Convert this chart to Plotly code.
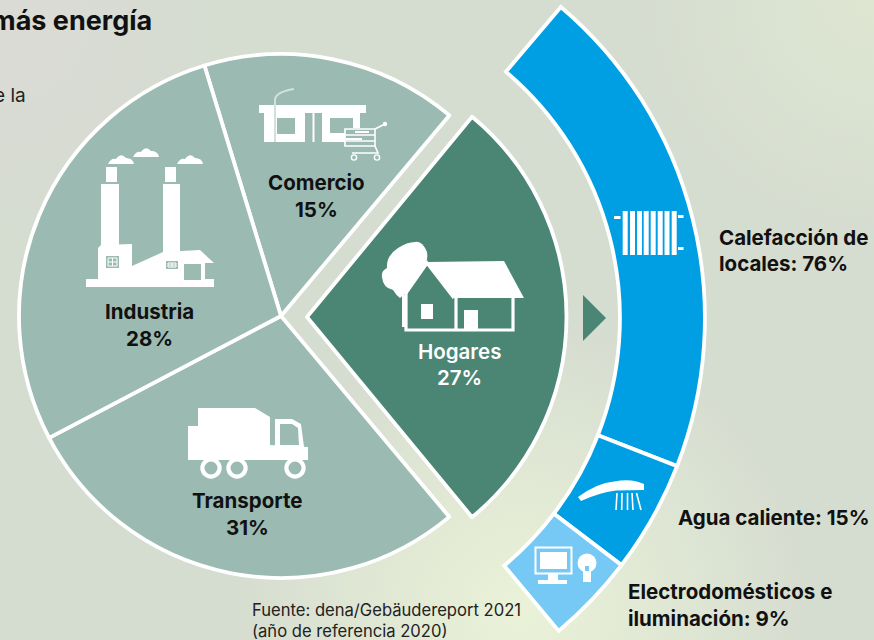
import base64
import re
import plotly.graph_objects as go

W, H = 874, 640

# ---------- data ----------
title_text = "más energía"
clipped_text = "e la"
source_lines = ["Fuente: dena/Gebäudereport 2021", "(año de referencia 2020)"]

main_names = ["Comercio", "Industria", "Transporte", "Hogares"]
main_pct = [15, 28, 31, 27]
# Arc of each sector in degrees
main_arcs = [57.0, 100.0, 102.2, 100.7]          # Comercio, gap for Hogares, Transporte, Industria
main_arc_labels = ["Comercio", "", "Transporte", "Industria"]
hogares_arcs = [101.0, 259.0]
use_names = ["Calefacción de locales", "Agua caliente", "Electrodomésticos e iluminación"]
use_pct = [76, 15, 9]
use_arcs = [71.0, 16.0, 12.8]

C_PALE, C_DARK = "#9BBAB1", "#4B8675"
C_BLUE, C_LIGHT = "#009FE3", "#76C8F5"
FONT = "Inter"
INK = "#111111"


# ---------- helpers ----------
def fx(x): return x / W
def fy(y): return 1 - y / H


def conv(path):
    return re.sub(r"(-?[\d.]+),(-?[\d.]+)",
                  lambda m: f"{fx(float(m[1])):.5f},{fy(float(m[2])):.5f}", path)


shapes = []


def path(d, fill="white", line=None, w=0):
    shapes.append(dict(type="path", xref="paper", yref="paper", path=conv(d),
                       fillcolor=fill, layer="above",
                       line=dict(color=line or "rgba(0,0,0,0)", width=w)))


def rect(x0, y0, x1, y1, fill="white"):
    path(f"M{x0},{y0} L{x1},{y0} L{x1},{y1} L{x0},{y1} Z", fill)


def stroke(d, color="white", w=2):
    path(d, "rgba(0,0,0,0)", color, w)


def circle(cx, cy, r, fill="white", line=None, w=0):
    shapes.append(dict(type="circle", xref="paper", yref="paper", layer="above",
                       x0=fx(cx - r), x1=fx(cx + r), y0=fy(cy + r), y1=fy(cy - r),
                       fillcolor=fill, line=dict(color=line or "rgba(0,0,0,0)", width=w)))


def pie_domain(cx, cy, r):
    return dict(x=[fx(cx - r), fx(cx + r)], y=[fy(cy + r), fy(cy - r)])


# ---------- background ----------
svg = f"""<svg xmlns='http://www.w3.org/2000/svg' width='{W}' height='{H}'>
<defs>
<radialGradient id='a' gradientUnits='userSpaceOnUse' cx='520' cy='610' r='300'>
<stop offset='0' stop-color='#EAF2D8'/><stop offset='1' stop-color='#EAF2D8' stop-opacity='0'/></radialGradient>
<radialGradient id='b' gradientUnits='userSpaceOnUse' cx='874' cy='0' r='260'>
<stop offset='0' stop-color='#DEE6D2'/><stop offset='1' stop-color='#DEE6D2' stop-opacity='0'/></radialGradient>
<radialGradient id='c' gradientUnits='userSpaceOnUse' cx='0' cy='20' r='220'>
<stop offset='0' stop-color='#DBDBD6'/><stop offset='1' stop-color='#DBDBD6' stop-opacity='0'/></radialGradient>
</defs>
<rect width='{W}' height='{H}' fill='#D5DCD0'/>
<rect width='{W}' height='{H}' fill='url(#b)'/>
<rect width='{W}' height='{H}' fill='url(#c)'/>
<rect width='{W}' height='{H}' fill='url(#a)'/>
</svg>"""
bg_uri = "data:image/svg+xml;base64," + base64.b64encode(svg.encode()).decode()

# ---------- marks ----------
fig = go.Figure()

fig.add_trace(go.Pie(
    labels=[n or "hueco" for n in main_arc_labels], values=main_arcs, sort=False,
    direction="clockwise", rotation=-17.0, textinfo="none", showlegend=False,
    domain=pie_domain(281, 316, 262),
    marker=dict(colors=[C_PALE, "rgba(0,0,0,0)", C_PALE, C_PALE],
                line=dict(color=["white", "rgba(0,0,0,0)", "white", "white"], width=[3.8, 0, 3.8, 3.8])),
))
fig.add_trace(go.Pie(
    labels=["Hogares", "resto"], values=hogares_arcs, sort=False,
    direction="clockwise", rotation=39.5, textinfo="none", showlegend=False,
    domain=pie_domain(307, 317, 259.5),
    marker=dict(colors=[C_DARK, "rgba(0,0,0,0)"],
                line=dict(color=["white", "rgba(0,0,0,0)"], width=[3.8, 0])),
))

RING_START, RING_R_IN, RING_R_OUT = 49.7, 323, 408
centres, a = [], RING_START
for arc in use_arcs:
    centres.append(a - arc / 2)
    a -= arc
fig.add_trace(go.Barpolar(
    theta=centres, width=use_arcs, base=[RING_R_IN] * 3, r=[RING_R_OUT - RING_R_IN] * 3,
    text=use_names, subplot="polar", showlegend=False,
    marker=dict(color=[C_BLUE, C_BLUE, C_LIGHT], line=dict(color="white", width=3.8)),
))

# ---------- arrow ----------
path("M583,295 L606,318 L583,341 Z", C_DARK)

# ---------- house ----------
path("M427,262 L504,261 L524,298 L453,298 Z")
stroke("M406,293 L427,263 L454,298", w=3.2)
stroke("M406,293 L406,330 L513,330 L513,298", w=3.2)
stroke("M456,298 L456,330", w=3.2)
rect(402, 295, 406, 327)
rect(421, 304, 433, 319)
rect(464, 310, 478, 330)
path("M382,277 Q381,271 387,268 Q386,256 398,248 Q407,242 415,242 Q422,240 427,252 "
     "Q428,258 426,263 L406,293 L400,298 Q396,295 393,290 Q383,288 382,277 Z")

# ---------- store ----------
rect(259, 105, 366, 113)
path("M264,113 L305,113 L305,142 L264,142 Z")
rect(277, 118, 295, 134, C_PALE)
path("M322,113 L360,113 L360,133 L345,133 L345,142 L322,142 Z")
rect(330, 118, 353, 133, C_PALE)
rect(312.5, 113, 314.5, 142)
stroke("M275,142 L275,100 Q275,92 294,89", "#D3E1DC", 2)
rect(345, 128, 376, 146, C_PALE)
stroke("M345,129 L375,129 L375,146 L345,146 Z", w=1.6)
stroke("M345,135 L375,135 M345,141 L375,141", w=1.4)
rect(355, 131, 369, 133)
rect(346, 138, 362, 140)
stroke("M375,129 L385,124", w=1.6)
circle(385, 124, 2.2)
stroke("M375,146 L378,153 L352,153", w=1.6)
circle(354, 157.5, 2.6, C_PALE, "white", 1.4)
circle(377, 157.5, 2.6, C_PALE, "white", 1.4)

# ---------- factory ----------
rect(86, 279, 214, 287)
rect(106, 167, 117, 182)
rect(165, 167, 176, 182)
rect(101, 184, 119, 250)
rect(163, 184, 180, 255)
path("M98,280 L98,248 L101,245 L132,244 L132,266 L163,252 L200,250 L214,263 L205,263 L205,280 Z")
rect(184, 264, 201, 280, C_PALE)
rect(106, 256, 119, 268, C_PALE)
stroke("M108,258 L117,258 L117,266 L108,266 Z M112.5,258 L112.5,266 M108,262 L117,262", w=1)
rect(166, 261, 178, 269, C_PALE)
stroke("M168,263 L176,263 L176,267 L168,267 Z M172,263 L172,267 M168,265 L176,265", w=1)
for x0, yb in [(108, 164), (133, 157), (177, 164)]:
    path(f"M{x0},{yb} Q{x0+3},{yb-6} {x0+8},{yb-5} Q{x0+13},{yb-12} {x0+18},{yb-6} "
         f"Q{x0+25},{yb-6} {x0+26},{yb} Z")

# ---------- truck ----------
path("M188,426 L198,426 L198,408 L255,408 L270,417 L270,445 L308,447 L308,460 L188,460 Z")
path("M275,419 L292,419 L301,424 L304,447 L275,447 Z")
path("M280,424 L292,424 L298,428 L299,445 L280,445 Z", C_PALE)
for cx in (211, 237, 295):
    circle(cx, 468, 8.6, C_PALE, "white", 4.2)

# ---------- radiator ----------
for x0 in (622.7, 630, 637, 643.7, 650.7, 657.7, 664.5, 671.7):
    rect(x0, 211, x0 + 5, 255)
rect(614, 216, 620.5, 219)
rect(678, 215, 683.5, 218)
rect(678, 247, 683.5, 250)

# ---------- shower ----------
path("M578,497 Q597,483 614,481.5 Q632,478 644,484 L644,490 L616,490.5 Q598,493 581,501 Z")
for xt, xb in [(617, 616), (622, 621.7), (627.5, 627.5), (632, 633), (636.5, 641)]:
    stroke(f"M{xt},493 L{xb},510", w=1.6)

# ---------- monitor and bulb ----------
stroke("M535.5,547.5 L571.5,547.5 L571.5,573.5 L535.5,573.5 Z", w=2)
rect(540, 552, 567, 569)
rect(548, 574, 558, 580)
rect(538, 580, 567, 584)
circle(587, 563, 9.5)
rect(583, 571, 591, 582)
rect(585, 566, 589, 571, C_LIGHT)


# ---------- text ----------
annos = []


def label(x, y, text, size=20.5, color=INK, anchor="center", weight=700):
    annos.append(dict(x=fx(x), y=fy(y), xref="paper", yref="paper", text=text,
                      showarrow=False, xanchor=anchor, yanchor="middle",
                      font=dict(family=FONT, size=size, color=color, weight=weight)))


label(154, 20, title_text, size=27, anchor="right")
label(28, 95, clipped_text, size=19, anchor="right", weight=400, color="#222222")

for name, pct, x, y1, y2 in zip(main_names, main_pct,
                                [316, 149, 248, 459], [182, 311, 500, 351], [209, 338, 527, 377]):
    col = "white" if name == "Hogares" else INK
    label(x, y1, name, color=col, weight=600 if name == "Hogares" else 700)
    label(x, y2, f"{pct}%", color=col, weight=600 if name == "Hogares" else 700)

label(717, 237, "Calefacción de", anchor="left")
label(717, 263, f"locales: {use_pct[0]}%", anchor="left")
label(676, 517, f"{use_names[1]}: {use_pct[1]}%", anchor="left")
label(626, 591, "Electrodomésticos e", anchor="left")
label(626, 618, f"iluminación: {use_pct[2]}%", anchor="left")
label(250, 610, source_lines[0], size=16.6, anchor="left", weight=400, color="#222222")
label(250, 631, source_lines[1], size=16.6, anchor="left", weight=400, color="#222222")

# ---------- layout ----------
fig.update_layout(
    width=W, height=H, margin=dict(l=0, r=0, t=0, b=0), showlegend=False,
    paper_bgcolor="#D5DCD0", plot_bgcolor="rgba(0,0,0,0)",
    images=[dict(source=bg_uri, xref="paper", yref="paper", x=0, y=1, sizex=1, sizey=1,
                 sizing="stretch", xanchor="left", yanchor="top", layer="below")],
    polar=dict(
        domain=dict(x=[fx(297), fx(708)], y=[fy(635), fy(1)]),
        sector=[-50.5, 50.5], bgcolor="rgba(0,0,0,0)",
        radialaxis=dict(visible=False, range=[0, 411]),
        angularaxis=dict(visible=False),
    ),
    shapes=shapes, annotations=annos,
)

fig.write_html("out.html", config=dict(displayModeBar=False),
               post_script="document.body.style.margin='0';document.body.style.overflow='hidden';")
